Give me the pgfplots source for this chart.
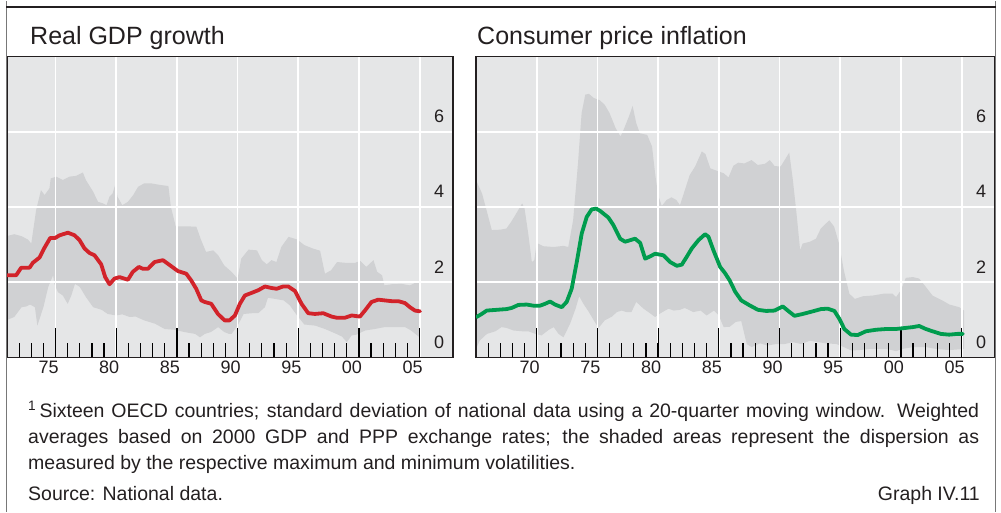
\documentclass[border=0pt]{standalone}
\usepackage{fontspec}
\setmainfont{Liberation Sans}
\usepackage{pgfplots}
\pgfplotsset{compat=1.18}
\definecolor{bgc}{RGB}{229,230,231}
\definecolor{bandc}{RGB}{208,209,211}
\definecolor{gdpred}{RGB}{210,35,42}
\definecolor{cpigreen}{RGB}{0,156,78}
\definecolor{darkline}{RGB}{35,31,32}
\definecolor{framegray}{RGB}{120,120,120}

\pgfplotsset{
  bisaxis/.style={
    scale only axis, height=301pt,
    xmax=2007.75, ymin=0, ymax=8,
    set layers, clip mode=individual,
    axis background/.style={fill=bgc},
    axis line style={darkline, line width=1.4pt},
    ytick={0,2,4,6}, yticklabels={0,2,4,6},
    tickpos=left, yticklabel pos=right,
    xtick align=inside,
    major tick length=30pt, minor tick length=15pt,
    tick style={black, line width=1.2pt},
    ytick style={draw=none},
    grid=major, major grid style={white, line width=1.8pt},
    yticklabel style={anchor=center, xshift=-14pt, yshift=15.5pt},
    xticklabel style={xshift=-7pt},
    tick label style={font=\fontsize{18}{20}\selectfont, text=darkline},
  }
}

\begin{document}
\begin{tikzpicture}
\path (0pt,0pt) rectangle (1001pt,511pt);
\draw[framegray, line width=1.2pt] (6.5pt,0pt) -- (6.5pt,511pt);
\draw[framegray, line width=1.2pt] (995.2pt,0pt) -- (995.2pt,511pt);
\draw[darkline, line width=2pt] (6pt,505pt) -- (995.8pt,505pt);

\node[anchor=base west, inner sep=0pt, text=darkline, font=\fontsize{25}{30}\selectfont] at (30pt,467.5pt) {Real GDP growth};
\node[anchor=base west, inner sep=0pt, text=darkline, font=\fontsize{25}{30}\selectfont] at (477pt,467.5pt) {Consumer price inflation};

% ---------------- Real GDP growth ----------------
\begin{axis}[bisaxis, at={(7pt,154pt)}, anchor=south west, width=446pt,
  xmin=1971,
  xtick={1975,1980,...,2005}, xticklabels={75,80,85,90,95,00,05},
  minor xtick={1972,...,2005}]
% dispersion band: upper edge (left to right), then lower edge (right to left)
\addplot[fill=bandc, draw=none, on layer=axis background] coordinates {
(1971.0,3.23)(1971.6,3.28)(1972.17,3.23)(1972.72,3.14)(1973.0,3.03)(1973.4,3.92)(1973.8,4.45)(1974.1,4.32)(1974.5,4.50)(1974.6,4.76)(1975.05,4.81)(1975.6,4.72)(1976.15,4.81)(1976.7,4.83)(1977.25,4.92)(1977.5,4.72)(1978.1,4.41)(1978.5,4.14)(1978.9,4.10)(1979.2,4.05)(1979.45,4.28)(1979.7,4.36)(1979.95,4.63)(1980.1,4.28)(1980.5,4.05)(1980.96,4.14)(1981.4,4.32)(1981.8,4.54)(1982.3,4.63)(1982.9,4.63)(1983.6,4.59)(1984.3,4.56)(1984.5,4.01)(1984.9,3.49)(1985.6,3.49)(1986.6,3.48)(1987.0,3.12)(1987.4,2.81)(1988.0,2.85)(1988.4,2.72)(1988.9,2.45)(1989.5,2.28)(1990.0,2.10)(1990.3,2.63)(1990.9,2.87)(1991.6,2.85)(1992.0,2.59)(1992.4,2.48)(1992.8,2.59)(1993.2,2.54)(1993.6,2.94)(1994.2,3.21)(1994.9,3.14)(1995.5,2.99)(1996.2,2.90)(1996.8,2.84)(1997.2,2.23)(1997.7,2.32)(1998.2,2.54)(1998.85,2.52)(1999.7,2.52)(2000.1,2.57)(2000.6,2.41)(2001.2,2.59)(2001.5,2.28)(2001.9,2.19)(2002.1,1.92)(2002.7,1.95)(2003.5,1.96)(2004.2,1.92)(2004.6,1.98)(2005.0,2.01)
(2005.0,0.54)(2004.8,0.59)(2004.3,0.72)(2003.8,0.81)(2003.0,0.81)(2002.1,0.81)(2001.3,0.76)(2000.5,0.72)(1999.8,0.61)(1999.4,0.59)(1999.0,0.41)(1998.6,0.56)(1998.0,0.65)(1997.2,0.76)(1996.4,0.85)(1995.5,0.88)(1994.9,1.12)(1994.3,1.39)(1993.8,1.52)(1993.1,1.56)(1992.5,1.59)(1992.25,1.34)(1991.7,1.18)(1991.2,1.18)(1990.5,1.16)(1990.0,0.85)(1989.5,0.63)(1989.3,0.63)(1988.9,0.68)(1988.4,0.81)(1987.8,0.68)(1987.3,0.63)(1986.9,0.54)(1986.5,0.63)(1985.6,0.68)(1984.8,0.74)(1984.0,0.76)(1983.2,0.90)(1982.3,0.99)(1981.6,1.09)(1981.1,1.08)(1980.5,1.15)(1980.0,1.12)(1979.3,1.16)(1978.8,1.27)(1978.1,1.34)(1977.5,1.61)(1977.0,1.88)(1976.6,1.96)(1976.3,1.65)(1976.0,1.43)(1975.6,1.65)(1975.2,1.74)(1974.9,1.96)(1974.8,2.19)(1974.4,1.88)(1974.0,1.34)(1973.5,0.85)(1973.3,1.34)(1972.9,1.41)(1972.6,1.36)(1972.2,1.34)(1971.6,1.08)(1971.0,1.00)
};
\addplot[gdpred, line width=3.8pt, line join=round, line cap=round] coordinates {
(1971.0,2.19)(1971.76,2.19)(1972.17,2.39)(1972.86,2.39)(1973.13,2.52)(1973.68,2.66)(1974.09,2.92)(1974.56,3.18)(1974.97,3.18)(1975.33,3.25)(1976.02,3.32)(1976.57,3.25)(1976.98,3.12)(1977.39,2.90)(1977.80,2.78)(1978.21,2.72)(1978.76,2.48)(1979.09,2.14)(1979.45,1.95)(1979.86,2.10)(1980.27,2.14)(1980.96,2.07)(1981.37,2.28)(1981.87,2.41)(1982.20,2.36)(1982.61,2.36)(1983.16,2.54)(1983.85,2.59)(1984.53,2.43)(1985.08,2.30)(1985.77,2.23)(1986.18,2.05)(1986.59,1.83)(1987.01,1.52)(1987.28,1.48)(1987.83,1.43)(1988.38,1.16)(1988.93,0.99)(1989.34,0.99)(1989.78,1.12)(1990.19,1.43)(1990.60,1.65)(1991.15,1.72)(1991.70,1.79)(1992.25,1.89)(1992.80,1.85)(1993.21,1.83)(1993.76,1.89)(1994.18,1.89)(1994.73,1.77)(1995.27,1.43)(1995.82,1.18)(1996.37,1.16)(1997.06,1.18)(1997.75,1.09)(1998.16,1.06)(1998.85,1.06)(1999.40,1.12)(2000.08,1.09)(2000.49,1.25)(2001.04,1.48)(2001.59,1.54)(2002.14,1.52)(2002.69,1.50)(2003.24,1.50)(2003.79,1.45)(2004.20,1.34)(2004.62,1.25)(2005.03,1.23)
};
\end{axis}

% ---------------- Consumer price inflation ----------------
\begin{axis}[bisaxis, at={(476pt,154pt)}, anchor=south west, width=519pt,
  xmin=1965,
  xtick={1970,1975,...,2005}, xticklabels={70,75,80,85,90,95,00,05},
  minor xtick={1966,...,2005}]
\addplot[fill=bandc, draw=none, on layer=axis background] coordinates {
(1965.0,4.72)(1965.5,4.36)(1965.9,3.88)(1966.3,3.39)(1967.0,3.40)(1967.5,3.43)(1967.9,3.61)(1968.35,3.85)(1968.8,4.10)(1969.0,3.96)(1969.3,3.30)(1969.6,2.54)(1969.8,2.59)(1970.0,3.05)(1970.55,2.96)(1971.4,2.94)(1972.2,2.97)(1972.6,2.94)(1973.0,3.65)(1973.4,5.16)(1973.7,6.50)(1974.0,6.99)(1974.3,7.01)(1974.7,6.90)(1975.2,6.84)(1975.6,6.72)(1976.0,6.50)(1976.5,6.10)(1976.9,5.88)(1977.1,6.01)(1977.6,6.41)(1977.9,6.69)(1978.2,6.23)(1978.5,5.96)(1979.1,5.92)(1979.5,5.61)(1979.75,4.90)(1980.0,4.32)(1980.3,4.03)(1980.7,4.19)(1981.1,4.26)(1981.5,4.19)(1981.8,4.05)(1982.2,4.45)(1982.6,4.85)(1983.05,5.08)(1983.6,5.48)(1983.9,5.41)(1984.3,5.03)(1984.8,4.97)(1985.4,4.90)(1985.8,4.79)(1986.2,5.10)(1986.6,5.18)(1987.1,5.16)(1987.7,5.25)(1988.2,5.12)(1988.8,5.15)(1989.2,5.25)(1989.6,5.09)(1990.1,5.08)(1990.8,5.45)(1991.1,4.72)(1991.4,3.83)(1991.7,2.85)(1991.9,3.03)(1992.5,3.08)(1993.0,3.16)(1993.4,3.43)(1994.1,3.65)(1994.5,3.48)(1994.9,3.03)(1995.3,2.32)(1995.75,1.70)(1996.2,1.56)(1996.85,1.63)(1997.7,1.65)(1998.6,1.70)(1999.3,1.70)(1999.6,1.61)(2000.0,1.79)(2000.4,2.12)(2001.0,2.14)(2001.5,2.10)(2002.05,1.88)(2002.6,1.65)(2003.4,1.52)(2004.0,1.41)(2004.8,1.34)(2005.2,1.25)
(2005.2,0.23)(2004.0,0.20)(2002.9,0.23)(2002.05,0.28)(2001.0,0.28)(2000.1,0.23)(1999.6,0.17)(1999.0,0.22)(1998.2,0.23)(1997.4,0.23)(1996.6,0.20)(1995.9,0.19)(1995.3,0.28)(1994.7,0.36)(1993.8,0.38)(1993.2,0.41)(1992.5,0.45)(1991.8,0.36)(1991.1,0.41)(1990.4,0.36)(1989.7,0.36)(1989.0,0.32)(1988.4,0.38)(1987.7,0.28)(1987.3,0.36)(1986.85,0.97)(1986.4,0.95)(1985.9,0.82)(1985.4,0.81)(1985.0,1.12)(1984.6,1.25)(1984.0,1.12)(1983.5,1.25)(1982.9,1.21)(1982.2,1.32)(1981.8,1.27)(1981.3,1.25)(1980.85,1.30)(1980.2,1.18)(1979.75,1.08)(1979.2,1.21)(1978.8,1.30)(1978.2,1.48)(1977.8,1.21)(1977.4,1.21)(1977.0,1.25)(1976.6,1.21)(1976.2,1.09)(1975.6,0.99)(1975.1,0.79)(1974.7,0.99)(1974.3,1.21)(1973.85,1.43)(1973.5,1.63)(1973.2,1.30)(1972.75,0.90)(1972.2,0.54)(1971.8,0.63)(1971.4,0.81)(1971.0,0.74)(1970.4,0.59)(1969.9,0.63)(1969.3,0.70)(1968.8,0.70)(1968.1,0.72)(1967.5,0.79)(1967.1,0.81)(1966.6,0.70)(1965.9,0.63)(1965.3,0.45)(1965.0,0.23)
};
\addplot[cpigreen, line width=3.8pt, line join=round, line cap=round] coordinates {
(1965.05,1.08)(1965.47,1.16)(1965.88,1.25)(1966.70,1.27)(1967.53,1.29)(1967.94,1.32)(1968.49,1.40)(1969.18,1.41)(1969.73,1.38)(1970.27,1.38)(1970.69,1.43)(1971.10,1.49)(1971.51,1.41)(1972.06,1.34)(1972.47,1.48)(1972.88,1.83)(1973.30,2.54)(1973.71,3.30)(1974.12,3.74)(1974.53,3.94)(1974.89,3.96)(1975.22,3.90)(1975.91,3.72)(1976.32,3.52)(1976.87,3.16)(1977.28,3.08)(1977.69,3.12)(1978.10,3.16)(1978.52,3.05)(1978.93,2.63)(1979.34,2.69)(1979.75,2.76)(1980.44,2.72)(1980.99,2.54)(1981.54,2.44)(1981.95,2.47)(1982.36,2.68)(1982.77,2.90)(1983.32,3.12)(1983.87,3.28)(1984.15,3.21)(1984.56,2.85)(1985.11,2.41)(1985.50,2.25)(1985.90,2.05)(1986.35,1.75)(1986.85,1.52)(1987.53,1.39)(1988.22,1.27)(1988.90,1.24)(1989.59,1.25)(1990.27,1.36)(1990.68,1.25)(1991.23,1.11)(1991.92,1.16)(1992.74,1.23)(1993.42,1.29)(1993.97,1.30)(1994.52,1.24)(1994.93,1.03)(1995.34,0.76)(1995.89,0.61)(1996.44,0.60)(1997.12,0.70)(1997.95,0.74)(1998.77,0.76)(1999.59,0.76)(2000.41,0.79)(2000.96,0.81)(2001.51,0.84)(2002.05,0.76)(2002.60,0.70)(2003.29,0.63)(2003.97,0.61)(2004.66,0.63)(2005.10,0.63)
};
\end{axis}

% ---------------- footnotes ----------------
\node[anchor=base west, inner sep=0pt, text=darkline, font=\fontsize{19.5}{26}\selectfont] at (28pt,94pt)
 {\parbox[t]{951pt}{\tolerance=10000\hyphenpenalty=10000\textsuperscript{1}\,Sixteen OECD countries; standard deviation of national data using a 20-quarter moving window. Weighted\linebreak averages based on 2000 GDP and PPP exchange rates; the shaded areas represent the dispersion as\linebreak measured by the respective maximum and minimum volatilities.}};
\node[anchor=base west, inner sep=0pt, text=darkline, font=\fontsize{19.5}{26}\selectfont] at (28pt,11pt) {Source: National data.};
\node[anchor=base east, inner sep=0pt, text=darkline, font=\fontsize{19.5}{26}\selectfont] at (980pt,11pt) {Graph IV.11};
\end{tikzpicture}
\end{document}
